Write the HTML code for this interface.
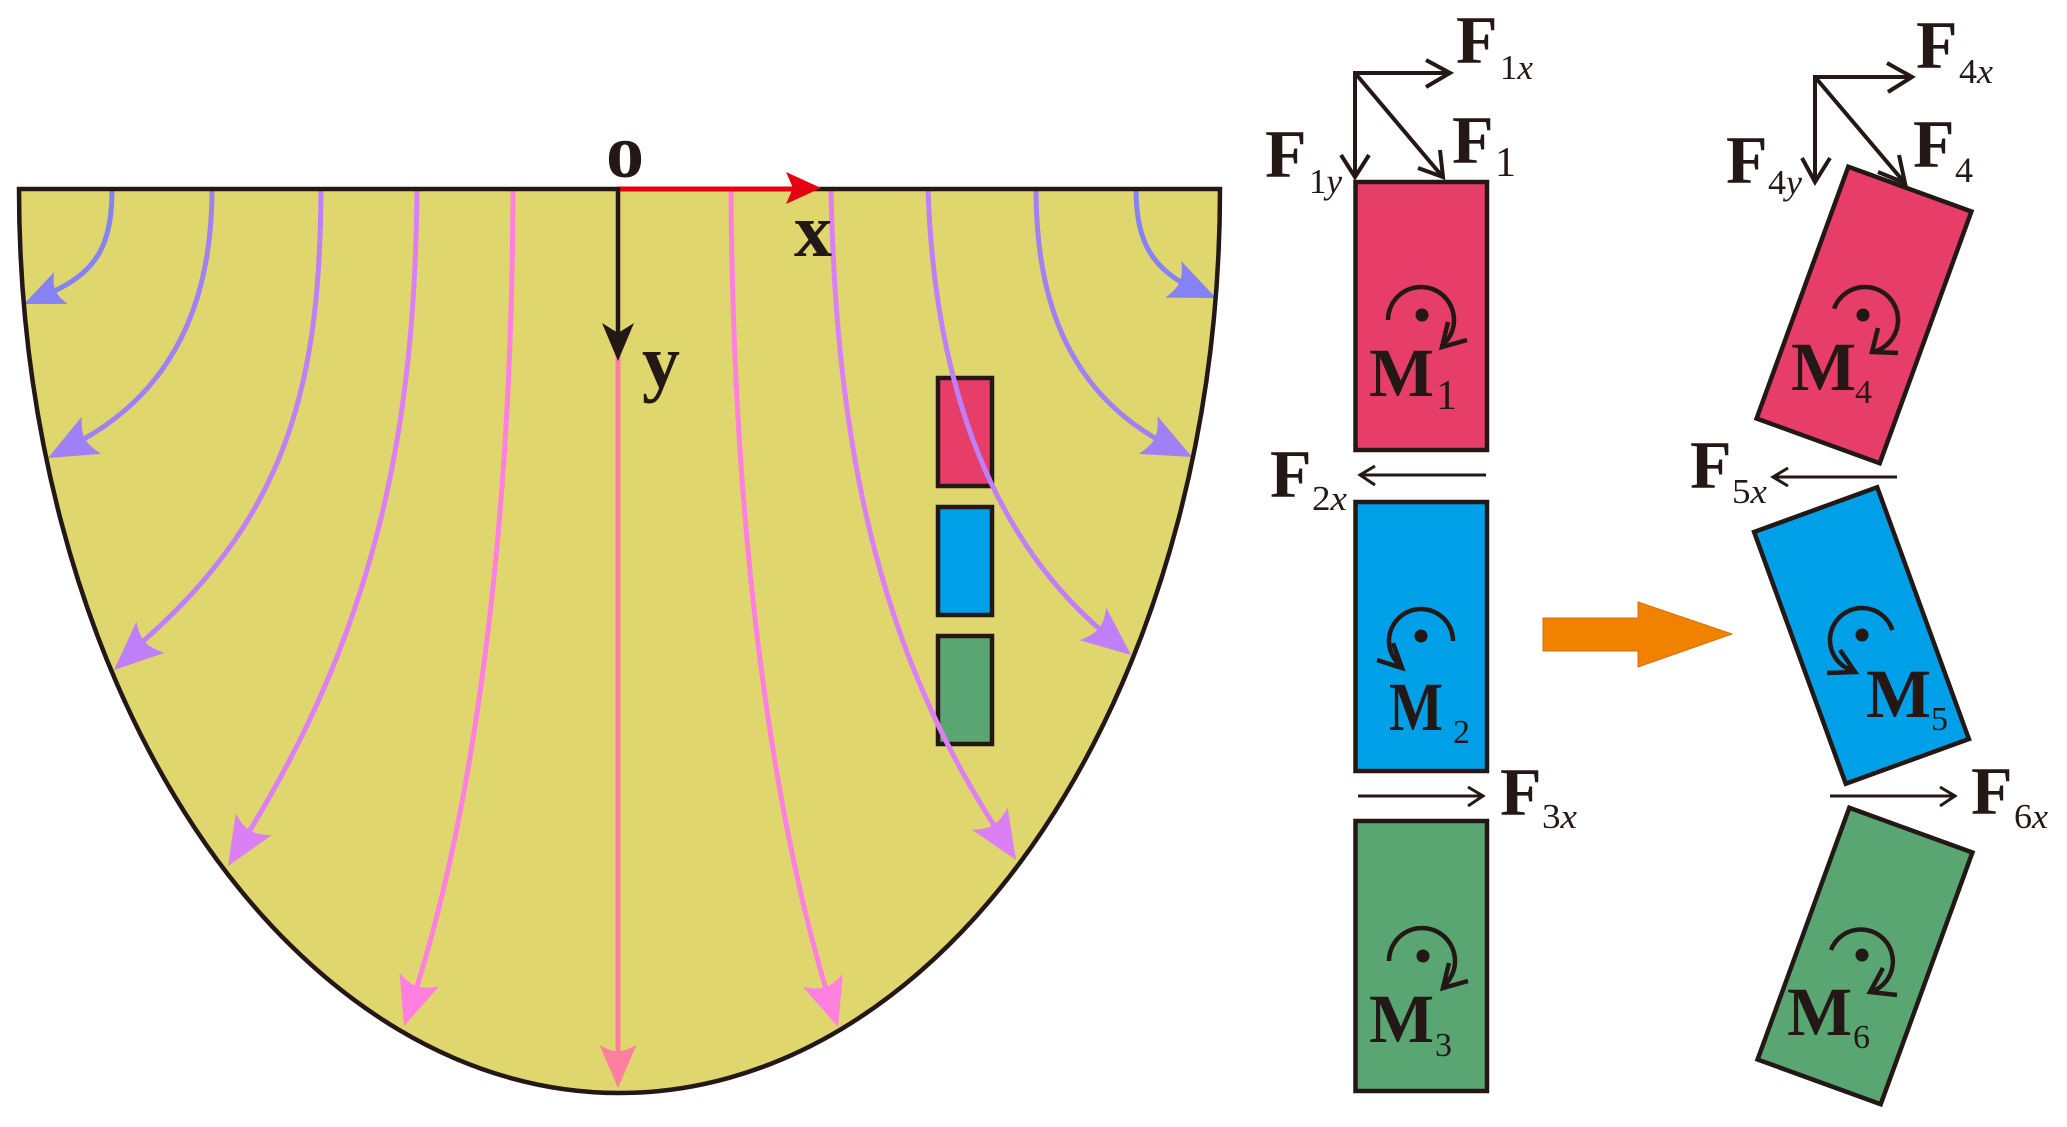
<!DOCTYPE html>
<html>
<head>
<meta charset="utf-8">
<style>
  html, body { margin: 0; padding: 0; background: #ffffff; }
  svg { display: block; }
  text { font-family: "Liberation Serif", "Times New Roman", serif; fill: #231815; }
</style>
</head>
<body>
<svg width="2067" height="1127" viewBox="0 0 2067 1127" xmlns="http://www.w3.org/2000/svg" font-family="Liberation Serif, serif">
  <defs>
    <path id="ah" d="M0,0 L-49,-21 Q-41,-7 -42,0 Q-41,7 -49,21 Z"/>
  </defs>

  <!-- Yellow half-ellipse body -->
  <path d="M19,189 H1220 A600.5,904 0 0 1 19,189 Z" fill="#dfd66e"/>

  <!-- small rectangles -->
  <rect x="938" y="378" width="54" height="108" fill="#e73e69" stroke="#231815" stroke-width="4.5"/>
  <rect x="938" y="507" width="54" height="108" fill="#00a0e8" stroke="#231815" stroke-width="4.5"/>
  <rect x="938" y="636" width="54" height="108" fill="#5aa672" stroke="#231815" stroke-width="4.5"/>

  <!-- stream lines -->
  <g fill="none" stroke-width="5" stroke-linecap="butt">
    <path d="M112,189 C112,240 100,272 49.7,292.9" stroke="#8482f5"/>
    <path d="M212,189 C212,300 175,390 78.1,442.2" stroke="#a080f5"/>
    <path d="M321,189 C320,380 290,515 137.9,645.8" stroke="#bf7ff8"/>
    <path d="M417,189 C415,420 380,620 245.8,837" stroke="#dc7ff5"/>
    <path d="M513,189 C512,550 470,820 414.7,993.7" stroke="#ff80df"/>
    <path d="M618,340 L618,1060" stroke="#ff7f9f"/>
    <path d="M731,189 C733,550 775,820 827.6,994.6" stroke="#ff80df"/>
    <path d="M831,189 C836,450 880,650 997.8,831.2" stroke="#dc7ff5"/>
    <path d="M928,189 C935,400 1000,545 1104.7,633.5" stroke="#bf7ff8"/>
    <path d="M1036,189 C1036,300 1068,390 1161.6,441.8" stroke="#a080f5"/>
    <path d="M1136,189 C1136,235 1148,265 1186.7,285.2" stroke="#8482f5"/>
  </g>

  <!-- arrowheads -->
  <use href="#ah" fill="#8482f5" transform="translate(24,304) rotate(156.6) scale(0.82)"/>
  <use href="#ah" fill="#a080f5" transform="translate(48,458) rotate(152.4)"/>
  <use href="#ah" fill="#bf7ff8" transform="translate(114,670) rotate(138)"/>
  <use href="#ah" fill="#dc7ff5" transform="translate(228,866) rotate(121.6)"/>
  <use href="#ah" fill="#ff80df" transform="translate(404,1026) rotate(108.4)"/>
  <use href="#ah" fill="#ff7f9f" transform="translate(618,1088) rotate(90) scale(0.88)"/>
  <use href="#ah" fill="#ff80df" transform="translate(838,1027) rotate(72.1)"/>
  <use href="#ah" fill="#dc7ff5" transform="translate(1016,860) rotate(57.7)"/>
  <use href="#ah" fill="#bf7ff8" transform="translate(1131,655) rotate(39.3)"/>
  <use href="#ah" fill="#a080f5" transform="translate(1192,457) rotate(26.6)"/>
  <use href="#ah" fill="#8482f5" transform="translate(1216,298) rotate(23.6) scale(0.95)"/>

  <!-- outline -->
  <path d="M19,189 H1220 A600.5,904 0 0 1 19,189 Z" fill="none" stroke="#231815" stroke-width="4.5" stroke-linejoin="miter"/>

  <!-- axes -->
  <line x1="617" y1="189" x2="795" y2="189" stroke="#e60012" stroke-width="5"/>
  <path d="M821,188 L786,172 L793,188 L786,204 Z" fill="#e60012"/>
  <line x1="618" y1="187" x2="618" y2="336" stroke="#231815" stroke-width="4.5"/>
  <path d="M618,361 L602,323 L618,333 L634,323 Z" fill="#231815"/>

  <text x="606" y="177" font-size="76" font-weight="bold">o</text>
  <text x="794" y="256" font-size="76" font-weight="bold">x</text>
  <text x="642" y="387" font-size="76" font-weight="bold">y</text>

  <!-- Right: straight blocks -->
  <rect x="1355.5" y="182" width="131.5" height="268" fill="#e73e69" stroke="#231815" stroke-width="4.5"/>
  <rect x="1355.5" y="502" width="131.5" height="269" fill="#00a0e8" stroke="#231815" stroke-width="4.5"/>
  <rect x="1355.5" y="821" width="131.5" height="270" fill="#5aa672" stroke="#231815" stroke-width="4.5"/>

  <!-- Right: rotated blocks -->
  <polygon points="1848.3,166.7 1971.4,211.5 1879.7,463.3 1756.6,418.5" fill="#e73e69" stroke="#231815" stroke-width="4.5" stroke-linejoin="miter"/>
  <polygon points="1754.1,532 1877.2,487.2 1968.9,739 1845.8,783.8" fill="#00a0e8" stroke="#231815" stroke-width="4.5" stroke-linejoin="miter"/>
  <polygon points="1849.3,807.7 1972.4,852.5 1880.7,1104.3 1757.6,1059.5" fill="#5aa672" stroke="#231815" stroke-width="4.5" stroke-linejoin="miter"/>

  <!-- orange transition arrow -->
  <polygon points="1543,618 1638,618 1638,602 1732,634 1638,667 1638,651 1543,651" fill="#f08200" stroke="#d47000" stroke-width="1"/>

  <!-- force vectors -->
  <g fill="none" stroke="#231815" stroke-width="4" stroke-linecap="butt" stroke-linejoin="miter">
    <line x1="1355" y1="73" x2="1449" y2="73"/>
    <polyline points="1426,60 1450,73 1426,87"/>
    <line x1="1355" y1="71" x2="1355" y2="176"/>
    <polyline points="1341,155 1355,177 1369,155"/>
    <line x1="1355" y1="73" x2="1442" y2="176"/>
    <polyline points="1418,168 1443,177 1440,150"/>
    <line x1="1815" y1="77" x2="1911" y2="77"/>
    <polyline points="1887,63 1912,77 1888,92"/>
    <line x1="1815" y1="75" x2="1815" y2="181"/>
    <polyline points="1802,158 1815,182 1830,158"/>
    <line x1="1815" y1="77" x2="1904" y2="182"/>
    <polyline points="1878,172 1905,183 1899,155"/>
  </g>
  <g fill="none" stroke="#231815" stroke-width="3">
    <line x1="1486" y1="475" x2="1361" y2="475"/>
    <polyline points="1375,466 1360,475 1375,485"/>
    <line x1="1358" y1="796" x2="1482" y2="796"/>
    <polyline points="1468,787 1483,796 1468,806"/>
    <line x1="1897" y1="477" x2="1774" y2="477"/>
    <polyline points="1788,468 1773,477 1788,486"/>
    <line x1="1830" y1="796" x2="1954" y2="796"/>
    <polyline points="1940,787 1955,796 1940,806"/>
  </g>

  <!-- moment symbols -->
  <g fill="none" stroke="#231815" stroke-width="4.5" stroke-linejoin="miter">
    <path d="M1388,320 A33,33 0 1 1 1441.3,346"/>
    <polyline points="1448,322 1442,347 1467,340"/>
    <path d="M1453,641 A32,32 0 1 0 1401.3,666.2"/>
    <polyline points="1393,643 1402,668 1377,660"/>
    <path d="M1389,961 A33,33 0 1 1 1442.3,987"/>
    <polyline points="1449,963 1443,988 1468,981"/>
    <path d="M1834,308.7 A33,33 0 1 1 1873.5,351.9"/>
    <polyline points="1878,328 1872,352 1898,353"/>
    <path d="M1892.4,630.1 A32,32 0 1 0 1855.3,671.3"/>
    <polyline points="1840,650 1855,672 1827,673"/>
    <path d="M1831,950 A32,32 0 1 1 1870.5,992"/>
    <polyline points="1883,968 1870,992 1897,995"/>
  </g>
  <g fill="#231815">
    <circle cx="1422" cy="315" r="6.5"/>
    <circle cx="1421" cy="636" r="6.5"/>
    <circle cx="1423" cy="956" r="6.5"/>
    <circle cx="1863" cy="315" r="6.5"/>
    <circle cx="1862" cy="635" r="6.5"/>
    <circle cx="1862" cy="955" r="6.5"/>
  </g>

  <!-- labels -->
  <g>
    <text x="1456" y="63" font-size="68" font-weight="bold">F</text>
    <text x="1500" y="79" font-size="35" textLength="33" lengthAdjust="spacingAndGlyphs">1<tspan font-style="italic">x</tspan></text>

    <text x="1452" y="163" font-size="68" font-weight="bold">F</text>
    <text x="1495" y="176" font-size="42">1</text>

    <text x="1265" y="177" font-size="68" font-weight="bold">F</text>
    <text x="1309" y="193" font-size="35" textLength="33" lengthAdjust="spacingAndGlyphs">1<tspan font-style="italic">y</tspan></text>

    <text x="1369" y="396" font-size="69" font-weight="bold">M</text>
    <text x="1436" y="409" font-size="42">1</text>

    <text x="1270" y="497" font-size="68" font-weight="bold">F</text>
    <text x="1312" y="510" font-size="35" textLength="35" lengthAdjust="spacingAndGlyphs">2<tspan font-style="italic">x</tspan></text>

    <text x="1389" y="730" font-size="69" font-weight="bold" textLength="54" lengthAdjust="spacingAndGlyphs">M</text>
    <text x="1453" y="743" font-size="34">2</text>

    <text x="1500" y="815" font-size="68" font-weight="bold">F</text>
    <text x="1542" y="828" font-size="35" textLength="35" lengthAdjust="spacingAndGlyphs">3<tspan font-style="italic">x</tspan></text>

    <text x="1369" y="1042" font-size="69" font-weight="bold">M</text>
    <text x="1435" y="1056" font-size="34">3</text>

    <text x="1916" y="68" font-size="68" font-weight="bold">F</text>
    <text x="1959" y="83" font-size="35" textLength="34" lengthAdjust="spacingAndGlyphs">4<tspan font-style="italic">x</tspan></text>

    <text x="1913" y="167" font-size="68" font-weight="bold">F</text>
    <text x="1955" y="182" font-size="36">4</text>

    <text x="1726" y="183" font-size="68" font-weight="bold">F</text>
    <text x="1768" y="194" font-size="35" textLength="34" lengthAdjust="spacingAndGlyphs">4<tspan font-style="italic">y</tspan></text>

    <text x="1791" y="390" font-size="69" font-weight="bold">M</text>
    <text x="1855" y="403" font-size="34">4</text>

    <text x="1690" y="488" font-size="68" font-weight="bold">F</text>
    <text x="1732" y="503" font-size="35" textLength="35" lengthAdjust="spacingAndGlyphs">5<tspan font-style="italic">x</tspan></text>

    <text x="1866" y="717" font-size="69" font-weight="bold">M</text>
    <text x="1931" y="730" font-size="34">5</text>

    <text x="1971" y="814" font-size="68" font-weight="bold">F</text>
    <text x="2014" y="828" font-size="35" textLength="34" lengthAdjust="spacingAndGlyphs">6<tspan font-style="italic">x</tspan></text>

    <text x="1787" y="1035" font-size="69" font-weight="bold">M</text>
    <text x="1853" y="1048" font-size="34">6</text>
  </g>
</svg>
</body>
</html>
